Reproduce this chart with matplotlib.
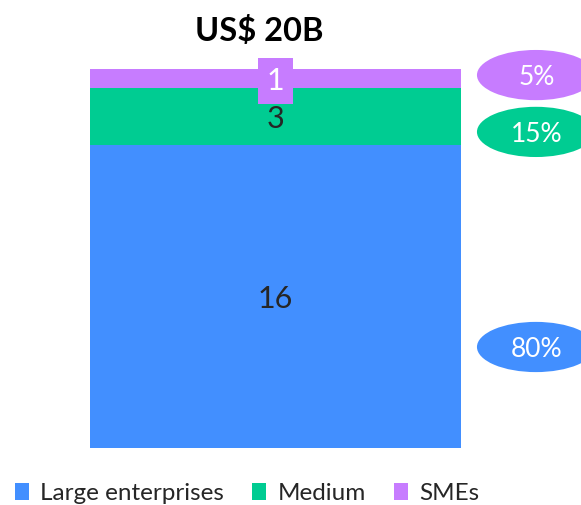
import matplotlib.pyplot as plt
from matplotlib.patches import Ellipse

# segments from bottom to top
segments = ['Large enterprises', 'Medium', 'SMEs']
values = [16, 3, 1]
shares = ['80%', '15%', '5%']
colors = ['#428FFF', '#00CC92', '#C77CFF']
total_label = 'US$ 20B'

# vertical position of each share bubble (data units)
bubble_y = [5.33, 16.68, 19.68]

plt.rcParams['font.family'] = ['Lato', 'DejaVu Sans']

W, H = 581, 505
fig = plt.figure(figsize=(W / 100, H / 100), dpi=100)
ax = fig.add_axes([90 / W, (H - 448) / H, (461 - 90) / W, 379 / H])
ax.set_xlim(-0.5, 0.5)
ax.set_ylim(0, sum(values))
ax.axis('off')

bottom = 0
for name, v, c in zip(segments, values, colors):
    ax.bar(0, v, width=1, bottom=bottom, color=c, label=name)
    mid = bottom + v / 2
    if v < 2:
        ax.text(0, mid, str(v), ha='center', va='center_baseline',
                fontsize=22, color='white',
                bbox=dict(boxstyle='square,pad=0.3', fc=c, ec='none'))
    else:
        ax.text(0, mid, str(v), ha='center', va='center_baseline',
                fontsize=22, color='#262626')
    bottom += v

ax.text(-0.044, sum(values) + 2.0, total_label, ha='center', va='center',
        fontsize=23.5, fontweight='bold', color='black')

# share bubbles to the right of the bar
for y, s, c in zip(bubble_y, shares, colors):
    e = Ellipse((0.702, y), 0.318, 2.65, fc=c, ec='none', clip_on=False)
    ax.add_patch(e)
    ax.text(0.705, y, s, ha='center', va='center_baseline', fontsize=19,
            color='white', clip_on=False)

handles, labels = ax.get_legend_handles_labels()
fig.legend(handles, labels, loc='lower center', ncol=3, frameon=False,
           fontsize=17.5, handlelength=0.6, handleheight=0.7,
           handletextpad=0.45, columnspacing=1.15,
           bbox_to_anchor=(0.425, -0.041), labelcolor='#262626')

fig.savefig('out.png', dpi=100)
